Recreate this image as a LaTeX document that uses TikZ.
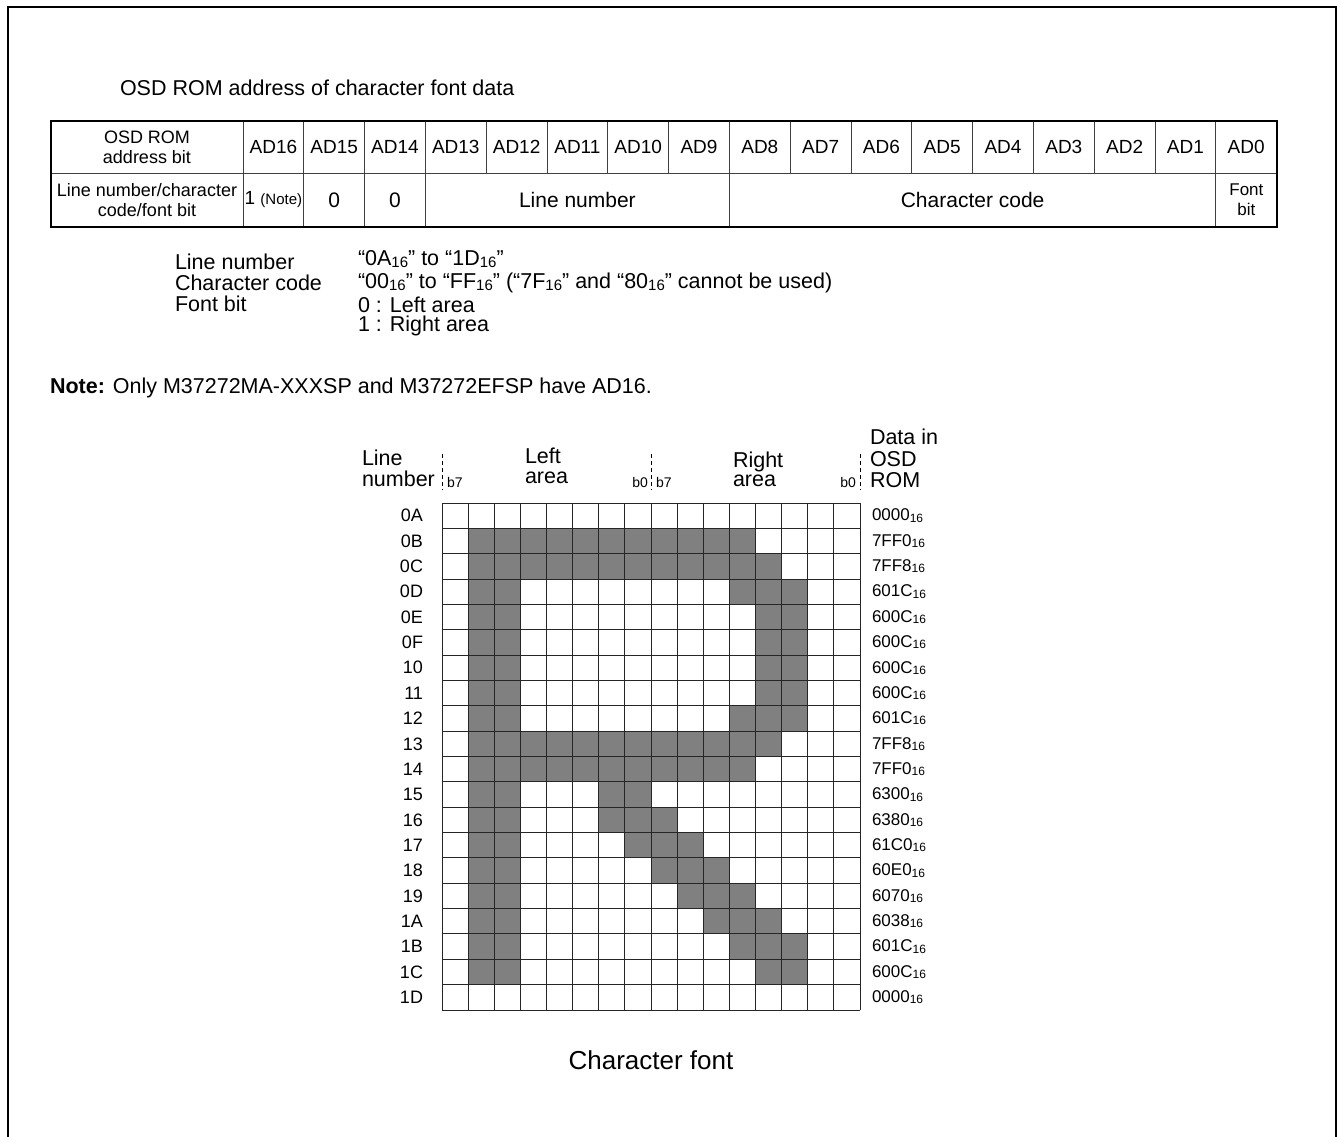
\documentclass[tikz,border=0pt]{standalone}
\usepackage{fontspec}
\setmainfont{Liberation Sans}
\usetikzlibrary{positioning}

% hex number with a small "16" base subscript
\newcommand{\hexnum}[2][12]{#2{\fontsize{#1}{#1}\selectfont\raisebox{-0.2ex}{16}}}

\begin{document}
\begin{tikzpicture}[
        x=1pt, y=-1pt,
        every node/.style={inner sep=0pt, outer sep=0pt},
        frame/.style={line width=2pt},
        tabouter/.style={line width=2pt},
        tabinner/.style={line width=0.9pt, draw=black!75},
        tabtext/.style={font=\fontsize{19}{21}\selectfont, align=center},
        tabbig/.style={font=\fontsize{21}{23}\selectfont, align=center},
        tabsmall/.style={font=\fontsize{18}{20}\selectfont, align=center},
        legtext/.style={font=\fontsize{21.5}{23}\selectfont, anchor=west},
        gridline/.style={line width=1pt, draw=black!85},
        pixel/.style={fill=black!50},
        rowlab/.style={font=\fontsize{18}{20}\selectfont, anchor=east},
        datval/.style={font=\fontsize{17}{19}\selectfont, anchor=west},
        bitlab/.style={font=\fontsize{14}{16}\selectfont},
        tick/.style={dash pattern=on 4pt off 3pt, line width=0.8pt}
    ]

    \useasboundingbox (0,0) rectangle (1339,1137);

    % frame, open at the bottom
    \draw[frame] (8,1137) -- (8,7) -- (1336,7) -- (1336,1137);

    \node[legtext] (title) at (120,88) {OSD ROM address of character font data};

    % address table
    \def\colw{60.8}
    \node[tabsmall] (hdr) at (147,147) {OSD ROM\\address bit};
    \node[tabsmall] (fld) at (147,200) {Line number/character\\code/font bit};
    \foreach \n [count=\k from 0] in {16,15,...,0}
        \node[tabtext] (ad\n) at ({273.4+\colw*\k},147) {AD\n};

    \node[tabtext] (b16) at (273.4,200) {1 {\fontsize{15}{17}\selectfont(Note)}};
    \node[tabbig] (b15) at (334.2,200) {0};
    \node[tabbig] (b14) at (395.0,200) {0};
    \node[tabbig] (lnum) at (577.4,200) {Line number};
    \node[tabbig] (ccode) at (972.6,200) {Character code};
    \node[tabtext, font=\fontsize{17}{20}\selectfont] (fbit) at (1246.4,200) {Font\\bit};

    \draw[tabinner] (51,173) -- (1277,173);
    \foreach \k in {0,...,16}
        \draw[tabinner] ({243+\colw*\k},121) -- ({243+\colw*\k},173);
    \foreach \x in {243,303.8,364.6,425.4,729.4,1215.8}
        \draw[tabinner] (\x,173) -- (\x,227);
    \draw[tabouter] (51,121) rectangle (1277,227);

    % legend
    \node[legtext] (keyln) at (175,262) {Line number};
    \node[legtext] (keycc) at (175,283) {Character code};
    \node[legtext] (keyfb) at (175,304) {Font bit};
    \node[legtext] (valln) at (358,259) {“\hexnum[15]{0A}” to “\hexnum[15]{1D}”};
    \node[legtext] (valcc) at (358,283) {“\hexnum[15]{00}” to “\hexnum[15]{FF}” (“\hexnum[15]{7F}” and “\hexnum[15]{80}” cannot be used)};
    \node[legtext] (valfb0) at (358,305) {0 : Left area};
    \node[legtext] (valfb1) at (358,326) {1 : Right area};

    \node[legtext] (note) at (50,388) {\textbf{Note:} Only M37272MA-XXXSP and M37272EFSP have AD16.};

    % character font grid
    \def\gx{442}
    \def\gy{503}
    \def\cw{26.125}
    \def\rh{25.35}

    \node[legtext] (hdline) at (362,458) {Line};
    \node[legtext] (hdnum) at (362,479) {number};
    \node[legtext] (hdleft) at (525,456) {Left};
    \node[legtext] (hdlarea) at (525,478) {area};
    \node[legtext] (hdright) at (733,462) {Right};
    \node[legtext] (hdrarea) at (733,481) {area};
    \node[legtext] (hddata) at (870,437) {Data in};
    \node[legtext] (hdosd) at (870,459) {OSD};
    \node[legtext] (hdrom) at (870,480) {ROM};

    \node[bitlab, anchor=west] (lb7) at (447,482) {b7};
    \node[bitlab, anchor=east] (lb0) at (648,482) {b0};
    \node[bitlab, anchor=west] (rb7) at (656,482) {b7};
    \node[bitlab, anchor=east] (rb0) at (856,482) {b0};
    \foreach \x in {442,651,860}
        \draw[tick] (\x,454) -- (\x,490);

    \foreach \row/\cols in {1/{1,...,11}, 2/{1,...,12}, 3/{1,2,11,12,13},
            4/{1,2,12,13}, 5/{1,2,12,13}, 6/{1,2,12,13}, 7/{1,2,12,13},
            8/{1,2,11,12,13}, 9/{1,...,12}, 10/{1,...,11}, 11/{1,2,6,7},
            12/{1,2,6,7,8}, 13/{1,2,7,8,9}, 14/{1,2,8,9,10}, 15/{1,2,9,10,11},
            16/{1,2,10,11,12}, 17/{1,2,11,12,13}, 18/{1,2,12,13}}
        \foreach \col in \cols
            \fill[pixel] ({\gx+\cw*\col},{\gy+\rh*\row}) rectangle ++(\cw,\rh);

    \foreach \i in {0,...,16}
        \draw[gridline] ({\gx+\cw*\i},\gy) -- ++(0,{20*\rh});
    \foreach \j in {0,...,20}
        \draw[gridline] (\gx,{\gy+\rh*\j}) -- ++({16*\cw},0);

    \foreach \lab/\val [count=\j from 0] in {0A/0000, 0B/7FF0, 0C/7FF8, 0D/601C,
            0E/600C, 0F/600C, 10/600C, 11/600C, 12/601C, 13/7FF8, 14/7FF0,
            15/6300, 16/6380, 17/61C0, 18/60E0, 19/6070, 1A/6038, 1B/601C,
            1C/600C, 1D/0000} {
        \node[rowlab] (ln\lab) at (423,{\gy+\rh*(\j+0.5)}) {\lab};
        \node[datval] (dv\lab) at (872,{\gy+\rh*(\j+0.5)}) {\hexnum{\val}};
    }

    \node[font=\fontsize{26}{28}\selectfont] (caption) at (651,1060) {Character font};

\end{tikzpicture}
\end{document}
